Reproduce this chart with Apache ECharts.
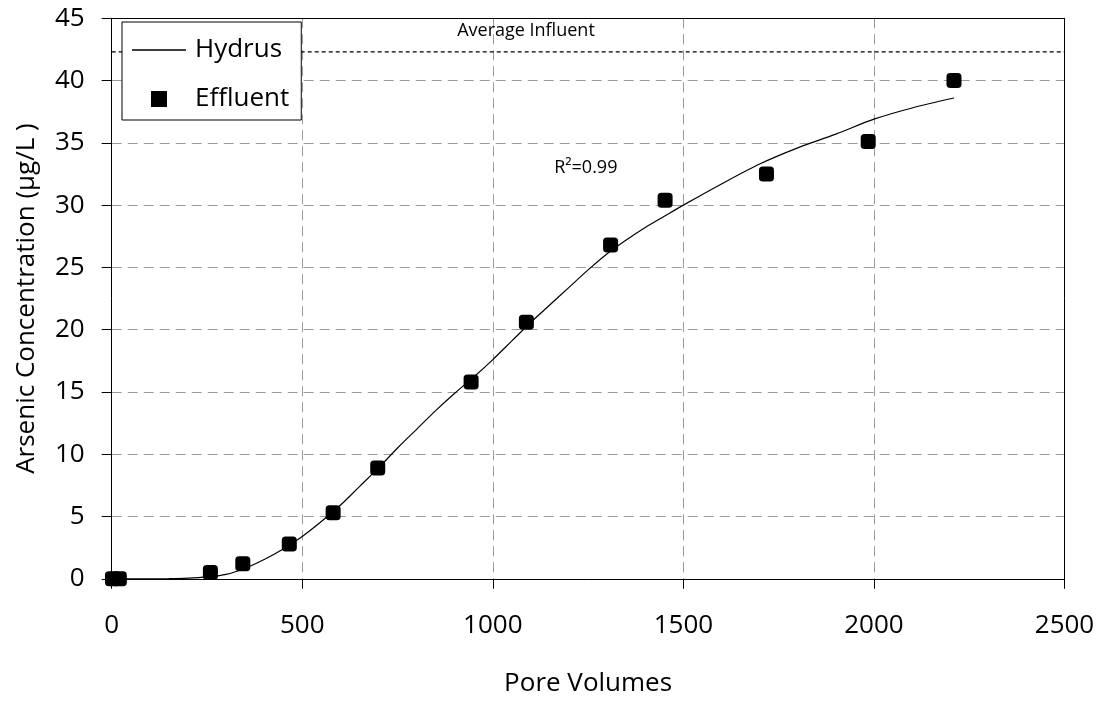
<!DOCTYPE html>
<html>
<head>
<meta charset="utf-8">
<script src="https://cdn.jsdelivr.net/npm/echarts@6/dist/echarts.min.js"></script>
<style>html,body{margin:0;padding:0;background:#fff;}#c{width:1106px;height:703px;}</style>
</head>
<body>
<div id="c"></div>
<script>
// Hydrus model curve
const hydrusX = [0, 100, 150, 200, 250, 300, 350, 400, 450, 500, 550, 600, 650, 700, 750, 800, 850, 900, 950, 1000, 1050, 1100, 1150, 1200, 1250, 1300, 1350, 1400, 1450, 1500, 1600, 1700, 1800, 1900, 2000, 2100, 2210];
const hydrusY = [0, 0, 0.01, 0.05, 0.15, 0.35, 0.85, 1.55, 2.4, 3.4, 4.6, 5.9, 7.4, 8.9, 10.5, 12.0, 13.5, 14.9, 16.2, 17.6, 19.1, 20.6, 22.0, 23.4, 24.8, 26.1, 27.2, 28.2, 29.1, 30.0, 31.7, 33.3, 34.6, 35.7, 36.9, 37.8, 38.6];
// Effluent measurements
const effluentX = [2, 20, 259, 344, 466, 581, 698, 943, 1088, 1309, 1452, 1718, 1985, 2210];
const effluentY = [0, 0, 0.5, 1.2, 2.8, 5.3, 8.9, 15.8, 20.6, 26.8, 30.4, 32.5, 35.1, 40.0];
// Average influent level
const influentX = [0, 2500];
const influentY = [42.3, 42.3];
// Annotations
const annotTexts = ['Average Influent', 'R\u00B2=0.99'];
const annotX = [1087, 1244];
const annotY = [44.0, 33.0];
// Axes
const xTicks = [0, 500, 1000, 1500, 2000, 2500];
const yTicks = [0, 5, 10, 15, 20, 25, 30, 35, 40, 45];
const xName = 'Pore Volumes';
const yName = 'Arsenic Concentration (\u00B5g/L )';

const FONT = 'Open Sans';
const zip = (a, b) => a.map((v, i) => [v, b[i]]);
const plain = v => String(v);

const chart = echarts.init(document.getElementById('c'), null, {renderer: 'canvas'});
const frameAxis = {
  type: 'value', axisLine: {show: true, onZero: false, lineStyle: {color: '#000', width: 1}},
  axisTick: {show: false}, axisLabel: {show: false}, splitLine: {show: false}
};
const option = {
  animation: false,
  backgroundColor: '#fff',
  textStyle: {fontFamily: FONT},
  grid: {left: 111.7, right: 41.5, top: 18.3, bottom: 124.2},
  legend: {
    left: 122, top: 22, orient: 'vertical',
    padding: [15, 12, 8, 10], itemGap: 23,
    itemWidth: 54, itemHeight: 16,
    backgroundColor: '#fff', borderColor: '#000', borderWidth: 1,
    textStyle: {fontFamily: FONT, fontSize: 26, color: '#000', padding: [0, 0, 0, 4]},
    symbolKeepAspect: true,
    data: [
      {name: 'Hydrus', icon: 'path://M0,0L54,0L54,1.4L0,1.4Z'},
      {name: 'Effluent', icon: 'path://M0,0L10,0L10,10L0,10Z'}
    ]
  },
  xAxis: [{
    type: 'value', min: xTicks[0], max: xTicks[xTicks.length - 1], interval: 500,
    name: xName, nameLocation: 'middle', nameGap: 92,
    nameTextStyle: {fontFamily: FONT, fontSize: 26, color: '#000'},
    axisLine: {show: true, onZero: false, lineStyle: {color: '#000', width: 1}},
    axisTick: {show: true, length: 10, lineStyle: {color: '#000'}},
    axisLabel: {margin: 34, fontFamily: FONT, fontSize: 26, color: '#000', formatter: plain},
    splitLine: {show: true, lineStyle: {color: '#9a9a9a', type: [10, 6], width: 1}}
  }, Object.assign({position: 'top', min: xTicks[0], max: xTicks[xTicks.length - 1]}, frameAxis)],
  yAxis: [{
    type: 'value', min: yTicks[0], max: yTicks[yTicks.length - 1], interval: 5,
    name: yName, nameLocation: 'middle', nameGap: 72, nameRotate: 90,
    nameTextStyle: {fontFamily: FONT, fontSize: 26, color: '#000'},
    axisLine: {show: true, onZero: false, lineStyle: {color: '#000', width: 1}},
    axisTick: {show: true, length: 10, lineStyle: {color: '#000'}},
    axisLabel: {margin: 27, fontFamily: FONT, fontSize: 26, color: '#000', formatter: plain},
    splitLine: {show: true, lineStyle: {color: '#9a9a9a', type: [10, 6], width: 1}}
  }, Object.assign({position: 'right', min: yTicks[0], max: yTicks[yTicks.length - 1]}, frameAxis)],
  series: [
    {
      name: 'Average Influent', type: 'line', data: zip(influentX, influentY),
      symbol: 'none', lineStyle: {color: '#000', width: 1.3, type: [4, 3]}, z: 1, silent: true
    },
    {
      name: 'Hydrus', type: 'line', data: zip(hydrusX, hydrusY), smooth: 0.3,
      symbol: 'none', showSymbol: false, lineStyle: {color: '#000', width: 1.2}, itemStyle: {color: '#000'}, z: 2
    },
    {
      name: 'Effluent', type: 'scatter', data: zip(effluentX, effluentY),
      symbol: 'roundRect', symbolSize: 15, itemStyle: {color: '#000', opacity: 1}, z: 3
    }
  ]
};
chart.setOption(option);

const g = annotTexts.map((t, i) => {
  const p = chart.convertToPixel({xAxisIndex: 0, yAxisIndex: 0}, [annotX[i], annotY[i]]);
  return {
    type: 'text', x: p[0], y: p[1], z: 10,
    style: {text: t, fontFamily: FONT, fontSize: 18, fill: '#000', align: 'center', verticalAlign: 'middle'}
  };
});
chart.setOption({graphic: g});
</script>
</body>
</html>
